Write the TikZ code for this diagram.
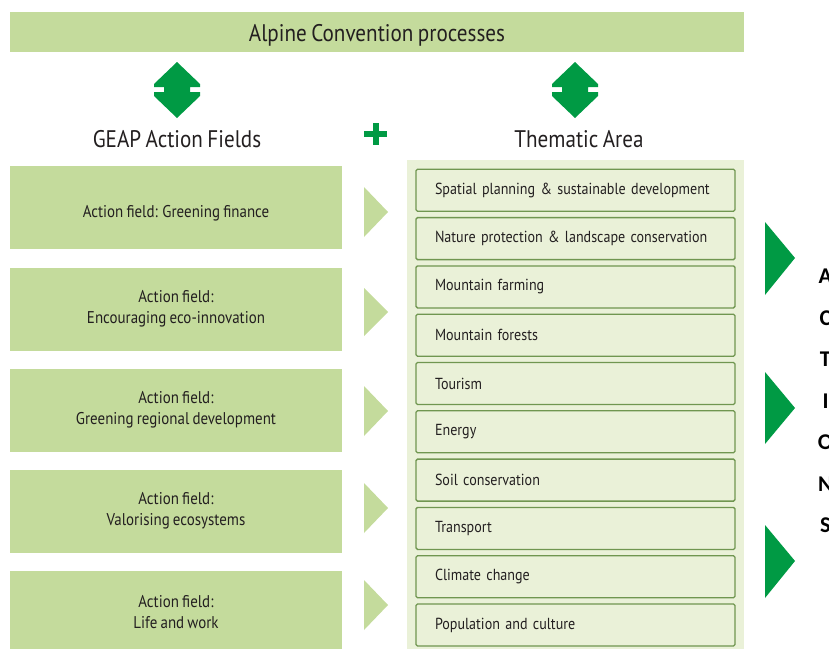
\documentclass[tikz,border=0pt]{standalone}
\usepackage{fontspec}
\setmainfont{PT Sans}[FakeStretch=0.88, WordSpace=0.8]
\newfontfamily\lettersfont{Carlito}
\usepackage{tikz}

\definecolor{fieldgreen}{RGB}{196,219,156}
\definecolor{areabg}{RGB}{234,241,216}
\definecolor{arealine}{RGB}{112,150,80}
\definecolor{alpgreen}{RGB}{0,154,68}
\definecolor{inkdark}{RGB}{35,31,32}

\begin{document}
\begin{tikzpicture}[x=1pt, y=-1pt,
  fieldbox/.style={fill=fieldgreen, minimum width=332pt, minimum height=83pt, inner sep=0pt, align=center, text=inkdark, font=\fontsize{17}{21}\selectfont},
  areabox/.style={draw=arealine, line width=1.3pt, rounded corners=1.5pt, fill=areabg, minimum height=42pt, text width=281pt, inner xsep=19pt, inner ysep=0pt, align=left, text=inkdark, font=\fontsize{16}{19}\selectfont},
  headtext/.style={text=inkdark, font=\fontsize{24}{28}\selectfont},
  chevron/.style={fill=fieldgreen},
  pointer/.style={fill=alpgreen},
  twoway/.style={fill=alpgreen}]
\useasboundingbox (0,0) rectangle (829,648);

\node[fill=fieldgreen, minimum width=734pt, minimum height=40pt, inner sep=0pt, text height=18pt, text depth=0pt, text=inkdark, font=\fontsize{24}{28}\selectfont] (conv) at (377,32) {Alpine Convention processes};

\fill[twoway, shift={(177,90)}] (0,-28) -- (23,-6) -- (23,-3) -- (13,-3) -- (13,2) -- (23,2) -- (23,6) -- (0,28) -- (-23,6) -- (-23,2) -- (-13,2) -- (-13,-3) -- (-23,-3) -- (-23,-6) -- cycle;
\fill[twoway, shift={(575,90)}] (0,-28) -- (23,-6) -- (23,-3) -- (13,-3) -- (13,2) -- (23,2) -- (23,6) -- (0,28) -- (-23,6) -- (-23,2) -- (-13,2) -- (-13,-3) -- (-23,-3) -- (-23,-6) -- cycle;

\node[headtext] (geap) at (177,139) {GEAP Action Fields};
\node[headtext] (thematic) at (579,139) {Thematic Area};
\draw[alpgreen, line width=6pt] (364,134) -- (387,134) (375.5,123) -- (375.5,145);

\node[fieldbox, text height=20pt, text depth=0pt] (F1) at (176,207.5) {Action field: Greening finance};
\node[fieldbox] (F2) at (176,309) {Action field:\\Encouraging eco-innovation};
\node[fieldbox] (F3) at (176,410) {Action field:\\Greening regional development};
\node[fieldbox] (F4) at (176,511) {Action field:\\Valorising ecosystems};
\node[fieldbox] (F5) at (176,612.5) {Action field:\\Life and work};

\fill[chevron] (364,187) -- (388,212) -- (364,237) -- cycle;
\fill[chevron] (364,288) -- (388,312) -- (364,336) -- cycle;
\fill[chevron] (364,386) -- (388,411) -- (364,436) -- cycle;
\fill[chevron] (364,483) -- (388,508) -- (364,533) -- cycle;
\fill[chevron] (364,580) -- (388,605) -- (364,630) -- cycle;

\node[fill=areabg, minimum width=337pt, minimum height=500pt, inner sep=0pt] (area) at (575.5,410) {};
\node[areabox] (T1) at (575.5,190.3) {Spatial planning \& sustainable development};
\node[areabox] (T2) at (575.5,238.6) {Nature protection \& landscape conservation};
\node[areabox] (T3) at (575.5,286.9) {Mountain farming};
\node[areabox] (T4) at (575.5,335.2) {Mountain forests};
\node[areabox] (T5) at (575.5,383.5) {Tourism};
\node[areabox] (T6) at (575.5,431.8) {Energy};
\node[areabox] (T7) at (575.5,480.1) {Soil conservation};
\node[areabox] (T8) at (575.5,528.4) {Transport};
\node[areabox] (T9) at (575.5,576.7) {Climate change};
\node[areabox] (T10) at (575.5,625) {Population and culture};

\fill[pointer] (765,222) -- (795,258) -- (765,295) -- cycle;
\fill[pointer] (765,372) -- (795,408) -- (765,444) -- cycle;
\fill[pointer] (765,525) -- (795,561) -- (765,598) -- cycle;

\node[inner sep=0pt, align=center, text=black, font=\lettersfont\bfseries\fontsize{22.5}{41.5}\selectfont] (actions) at (825.5,401) {A\\C\\T\\I\\O\\N\\S};

\end{tikzpicture}
\end{document}
